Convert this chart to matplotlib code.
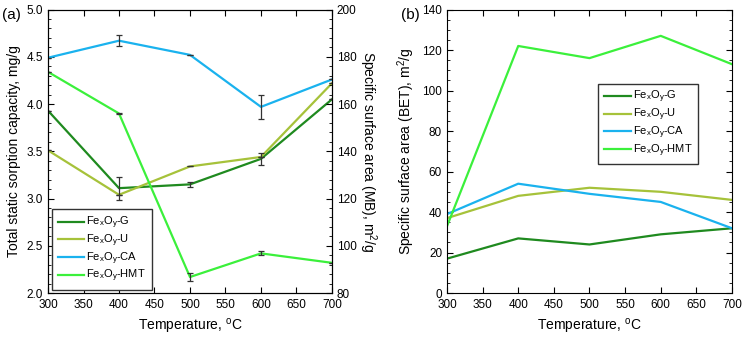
import matplotlib
matplotlib.use("Agg")
import matplotlib.pyplot as plt
from matplotlib.ticker import MultipleLocator

plt.rcParams['font.family'] = ['Liberation Sans', 'DejaVu Sans']
plt.rcParams['mathtext.default'] = 'regular'
plt.rcParams['xtick.direction'] = 'in'
plt.rcParams['ytick.direction'] = 'in'

# datos
temperatura = [300, 400, 500, 600, 700]
nombres = ['G', 'U', 'CA', 'HMT']
colores = ['#1f8a1f', '#a6c23a', '#1ab2ee', '#3bf03b']

# (a) capacidad de sorcion, mg/g
sorcion_G = [3.93, 3.11, 3.15, 3.42, 4.05]
sorcion_U = [3.51, 3.04, 3.34, 3.44, 4.22]
sorcion_CA = [4.49, 4.67, 4.52, 3.97, 4.26]
sorcion_HMT = [4.34, 3.90, 2.17, 2.42, 2.32]
error_G = [0, 0.12, 0.03, 0.06, 0]
error_U = [0, 0, 0, 0, 0]
error_CA = [0, 0.06, 0, 0.13, 0]
error_HMT = [0, 0.01, 0.04, 0.02, 0]

# (b) area superficial BET, m2/g
bet_G = [17, 27, 24, 29, 32]
bet_U = [37, 48, 52, 50, 46]
bet_CA = [39, 54, 49, 45, 32]
bet_HMT = [33, 122, 116, 127, 113]

sorcion = [sorcion_G, sorcion_U, sorcion_CA, sorcion_HMT]
errores = [error_G, error_U, error_CA, error_HMT]
bet = [bet_G, bet_U, bet_CA, bet_HMT]

estilo_leyenda = dict(fontsize=8, fancybox=False, edgecolor='#333333', framealpha=1,
                      handlelength=2.4, handletextpad=0.2, borderpad=0.5,
                      labelspacing=0.12, borderaxespad=0)

fig = plt.figure(figsize=(7.42, 3.4), dpi=100)
ax1 = fig.add_axes([0.0647, 0.138, 0.3827, 0.834])
ax2 = fig.add_axes([0.6024, 0.138, 0.3841, 0.834])

for nombre, color, y, err in zip(nombres, colores, sorcion, errores):
    ax1.plot(temperatura, y, color=color, lw=1.6, label=f'Fe$_x$O$_y$-{nombre}', zorder=3)
    ax1.errorbar(temperatura, y, yerr=err, fmt='none', ecolor='#333333',
                 elinewidth=0.9, capsize=2, capthick=0.9, zorder=4)

ax1.set_xlim(300, 700)
ax1.set_ylim(2, 5)
ax1.xaxis.set_major_locator(MultipleLocator(50))
ax1.yaxis.set_major_locator(MultipleLocator(0.5))
ax1.yaxis.set_minor_locator(MultipleLocator(0.1))
ax1.tick_params(which='both', top=True, labelsize=8.5)
ax1.tick_params(which='major', length=4)
ax1.tick_params(which='minor', length=2)
ax1.tick_params(axis='x', pad=4.5)
ax1.set_xlabel('Temperature, $^o$C', fontsize=10)
ax1.set_ylabel('Total static sorption capacity, mg/g', fontsize=10)
ax1.legend(loc='lower left', bbox_to_anchor=(0.014, 0.011), **estilo_leyenda)

ax1b = ax1.twinx()
ax1b.set_ylim(80, 200)
ax1b.yaxis.set_major_locator(MultipleLocator(20))
ax1b.yaxis.set_minor_locator(MultipleLocator(4))
ax1b.tick_params(which='both', labelsize=8.5)
ax1b.tick_params(which='major', length=4)
ax1b.tick_params(which='minor', length=2)
ax1b.set_ylabel('Specific surface area (MB), m$^2$/g', fontsize=10,
                rotation=270, labelpad=16)

for nombre, color, y in zip(nombres, colores, bet):
    ax2.plot(temperatura, y, color=color, lw=1.6, label=f'Fe$_x$O$_y$-{nombre}')

ax2.set_xlim(300, 700)
ax2.set_ylim(0, 140)
ax2.xaxis.set_major_locator(MultipleLocator(50))
ax2.yaxis.set_major_locator(MultipleLocator(20))
ax2.yaxis.set_minor_locator(MultipleLocator(5))
ax2.tick_params(which='both', top=True, right=True, labelsize=8.5)
ax2.tick_params(which='major', length=4)
ax2.tick_params(which='minor', length=2)
ax2.tick_params(axis='x', pad=4.5)
ax2.set_xlabel('Temperature, $^o$C', fontsize=10)
ax2.set_ylabel('Specific surface area (BET), m$^2$/g', fontsize=10)
ax2.legend(loc='upper right', bbox_to_anchor=(0.881, 0.739), **estilo_leyenda)

fig.text(0.003, 0.975, '(a)', fontsize=11, va='top')
fig.text(0.54, 0.975, '(b)', fontsize=11, va='top')

plt.savefig('out.png', dpi=100)
plt.close()
